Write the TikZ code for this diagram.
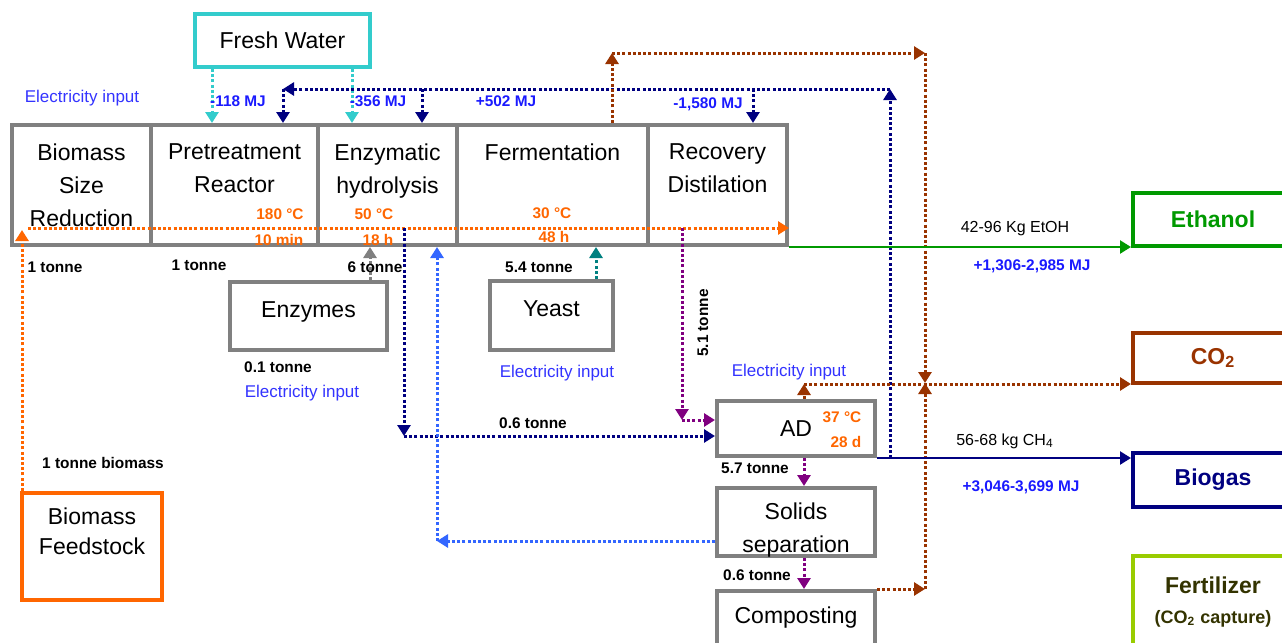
\documentclass[tikz,border=0pt]{standalone}
\usepackage{fontspec}
\setmainfont{Liberation Sans}
\usetikzlibrary{arrows.meta}
\definecolor{boxgray}{HTML}{808080}
\definecolor{watercyan}{HTML}{33CCCC}
\definecolor{feedorange}{HTML}{FF6600}
\definecolor{elecnavy}{HTML}{000080}
\definecolor{co2brown}{HTML}{993300}
\definecolor{ethgreen}{HTML}{009900}
\definecolor{fertgreen}{HTML}{99CC00}
\definecolor{fertdark}{HTML}{333300}
\definecolor{mjblue}{HTML}{1A1AFF}
\definecolor{elecblue}{HTML}{3333FF}
\definecolor{recycleblue}{HTML}{3366FF}
\definecolor{yeastteal}{HTML}{008080}
\definecolor{digpurple}{HTML}{800080}
\newcommand\boxfont{\fontsize{11.5pt}{16.5pt}\selectfont}
\newcommand\tagfont{\fontsize{7.7pt}{9pt}\selectfont\bfseries}
\newcommand\elecfont{\fontsize{8.5pt}{10pt}\selectfont}

\begin{document}
\begin{tikzpicture}[x=0.5pt,y=-0.5pt,
        unit/.style={draw=boxgray,line width=2pt,inner sep=0pt,align=center,font=\boxfont},
        product/.style={line width=2pt,inner sep=0pt,align=center,minimum width=80pt,
            font=\fontsize{11.5pt}{15pt}\selectfont\bfseries},
        flow/.style={line width=1.5pt,dash pattern=on 1.5pt off 1.1pt,-{Triangle[length=5.5pt,width=6.5pt]}},
        stream/.style={line width=1.2pt,-{Triangle[length=5.5pt,width=6.5pt]}},
        tag/.style={font=\tagfont,inner sep=0pt},
        mj/.style={font=\tagfont,text=mjblue,inner sep=0pt},
        elec/.style={font=\elecfont,text=elecblue,inner sep=0pt},
        cond/.style={font=\tagfont,text=feedorange,inner sep=0pt}]
        \useasboundingbox (0,0) rectangle (1282,643);
        \clip (0,0) rectangle (1282,643);

        \node[unit,draw=watercyan,minimum width=87.5pt,minimum height=26.5pt] (water) at (282.5,40.5) {Fresh Water};
        \node[unit,minimum width=69.5pt,minimum height=60pt] (size) at (81.5,185) {Biomass\\Size\\Reduction};
        \node[unit,minimum width=83.5pt,minimum height=60pt] (pre) at (234.5,185) {Pretreatment\\Reactor\\\mbox{}};
        \node[unit,minimum width=69.5pt,minimum height=60pt] (hyd) at (387.5,185) {Enzymatic\\hydrolysis\\\mbox{}};
        \node[unit,minimum width=95.5pt,minimum height=60pt] (ferm) at (552.5,185) {Fermentation\\\mbox{}\\\mbox{}};
        \node[unit,minimum width=69.5pt,minimum height=60pt] (rec) at (717.5,185) {Recovery\\Distilation\\\mbox{}};
        \node[unit,minimum width=78.5pt,minimum height=34pt,text height=6pt,text depth=5pt] (enz) at (308.5,316) {Enzymes};
        \node[unit,minimum width=61.5pt,minimum height=34.5pt,text height=6pt,text depth=5pt] (yeast) at (551.5,315.5) {Yeast};
        \node[unit,draw=feedorange,minimum width=70pt,minimum height=53.5pt,
            font=\fontsize{11.5pt}{15pt}\selectfont] (feed) at (92,546.5) {Biomass\\Feedstock\\\mbox{}};
        \node[unit,minimum width=79pt,minimum height=27.5pt] (ad) at (796,428.5) {AD};
        \node[unit,minimum width=79pt,minimum height=34pt,text depth=0pt] (solid) at (796,522) {\mbox{}\\[-3pt]Solids\\separation};
        \node[unit,minimum width=79pt,minimum height=35pt,text height=6pt,text depth=9pt] (comp) at (796,626) {Composting};

        \node[product,draw=ethgreen,text=ethgreen,minimum height=26.5pt] (eth) at (1213,219.5) {Ethanol};
        \node[product,draw=co2brown,text=co2brown,minimum height=25pt] (co2) at (1213,358) {CO\textsubscript{2}};
        \node[product,draw=elecnavy,text=elecnavy,minimum height=27pt] (gas) at (1213,480) {Biogas};
        \node[product,draw=fertgreen,text=fertdark,minimum height=46pt] (fert) at (1213,602)
            {Fertilizer\\{\fontsize{9pt}{15pt}\selectfont(CO\textsubscript{2} capture)}};

        \coordinate (etop) at (890,89);
        \coordinate (eleft) at (283,89);
        \coordinate (ctop) at (612,53);
        \coordinate (cright) at (925,53);
        \coordinate (cmid) at (925,383);
        \coordinate (cad) at (804,384);
        \coordinate (fup) at (22,230);
        \coordinate (hstart) at (28,228);
        \coordinate (lstart) at (404,228);
        \coordinate (lcorner) at (404,436);
        \coordinate (rstart) at (682,228);
        \coordinate (rcorner) at (682,420);
        \coordinate (scorner) at (437,541);

        \draw[flow,watercyan] (212,0 |- water.south) -- (212,0 |- pre.north);
        \draw[flow,watercyan] (352,0 |- water.south) -- (352,0 |- hyd.north);

        \draw[flow,elecnavy] (ad.south east -| etop) -- (etop);
        \draw[flow,elecnavy] (etop) -- (eleft);
        \draw[flow,elecnavy] (eleft) -- (eleft |- pre.north);
        \draw[flow,elecnavy] (422,89) -- (422,0 |- hyd.north);
        \draw[flow,elecnavy] (753,89) -- (753,0 |- rec.north);

        \draw[flow,co2brown] (ferm.north -| ctop) -- (ctop);
        \draw[flow,co2brown] (ctop) -- (cright);
        \draw[flow,co2brown] (cright) -- (cmid);
        \draw[flow,co2brown] (comp.north east) -- (comp.north east -| cmid);
        \draw[flow,co2brown] (comp.north east -| cmid) -- (cmid);
        \draw[flow,co2brown] (ad.north -| cad) -- (cad);
        \draw[flow,co2brown] (cad) -- (cad -| co2.west);

        \draw[flow,feedorange] (feed.north -| fup) -- (fup);
        \draw[flow,feedorange] (hstart) -- (hstart -| rec.east);

        \draw[stream,ethgreen] (rec.south east) -- (rec.south east -| eth.west);
        \draw[stream,elecnavy] (ad.south east) -- (ad.south east -| gas.west);

        \draw[flow,boxgray] (370,0 |- enz.north) -- (370,0 |- hyd.south);
        \draw[flow,yeastteal] (596,0 |- yeast.north) -- (596,0 |- ferm.south);

        \draw[flow,elecnavy] (lstart) -- (lcorner);
        \draw[flow,elecnavy] (lcorner) -- (lcorner -| ad.west);
        \draw[flow,digpurple] (rstart) -- (rcorner);
        \draw[flow,digpurple] (rcorner) -- (rcorner -| ad.west);

        \draw[flow,digpurple] (804,0 |- ad.south) -- (804,0 |- solid.north);
        \draw[flow,digpurple] (804,0 |- solid.south) -- (804,0 |- comp.north);
        \draw[flow,recycleblue] (solid.west |- scorner) -- (scorner);
        \draw[flow,recycleblue] (scorner) -- (scorner |- hyd.south);

        \node[elec] (elecmain) at (82,98) {Electricity input};
        \node[elec] (elecenz) at (302,393) {Electricity input};
        \node[elec] (elecyeast) at (557,373) {Electricity input};
        \node[elec] (elecad) at (789,372) {Electricity input};
        \node[mj] (mjpre) at (238,101) {-118 MJ};
        \node[mj] (mjhyd) at (378,101) {-356 MJ};
        \node[mj] (mjferm) at (506,101) {+502 MJ};
        \node[mj] (mjrec) at (708,104) {-1,580 MJ};
        \node[mj] (mjeth) at (1032,266) {+1,306-2,985 MJ};
        \node[mj] (mjgas) at (1021,487) {+3,046-3,699 MJ};

        \node[cond] (tpre) at (280,214) {180 °C};
        \node[cond] (dpre) at (279,240) {10 min};
        \node[cond] (thyd) at (374,214) {50 °C};
        \node[cond] (dhyd) at (378,240) {18 h};
        \node[cond] (tferm) at (552,213) {30 °C};
        \node[cond] (dferm) at (554,237) {48 h};
        \node[cond] (tad) at (842,417) {37 °C};
        \node[cond] (dad) at (846,442) {28 d};

        \node[tag] (msize) at (55,267) {1 tonne};
        \node[tag] (mpre) at (199,265) {1 tonne};
        \node[tag] (mhyd) at (375,267) {6 tonne};
        \node[tag] (menz) at (278,367) {0.1 tonne};
        \node[tag] (myeast) at (539,267) {5.4 tonne};
        \node[tag,rotate=90] (mrec) at (703,323) {5.1 tonne};
        \node[tag] (mliq) at (533,423) {0.6 tonne};
        \node[tag] (mad) at (755,468) {5.7 tonne};
        \node[tag] (msolid) at (757,575) {0.6 tonne};
        \node[tag] (mfeed) at (103,463) {1 tonne biomass};
        \node[tag,font=\fontsize{8pt}{9pt}\selectfont] (meth) at (1015,229) {42-96 Kg EtOH};
        \node[tag,font=\fontsize{8pt}{9pt}\selectfont] (mgas) at (1005,441) {56-68 kg CH\textsubscript{4}};
\end{tikzpicture}
\end{document}
